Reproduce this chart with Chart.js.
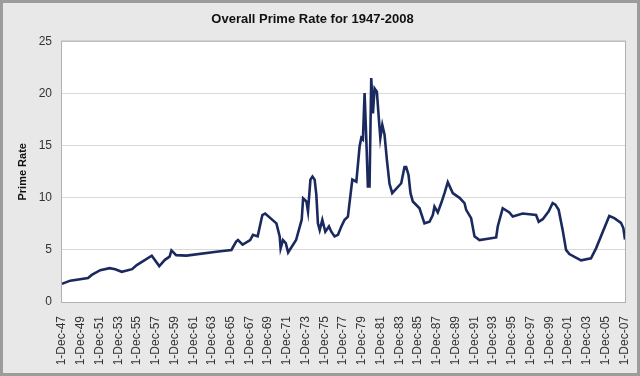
<!DOCTYPE html>
<html>
<head>
<meta charset="utf-8">
<script src="https://cdn.jsdelivr.net/npm/chart.js@4"></script>
<style>
  html, body { margin: 0; padding: 0; background: #e8e8e8; }
  canvas { display: block; }
</style>
</head>
<body>
<canvas id="prime" width="640" height="376"></canvas>
<script>
// decimal years of each rate change
const years = [
  1947.92, 1948.8, 1950.7, 1951.1, 1952.0, 1953.0, 1953.6, 1954.3, 1955.4, 1955.9,
  1957.5, 1958.3, 1958.9, 1959.4, 1959.6, 1960.1, 1961.2, 1964.6, 1966.0, 1966.5,
  1966.7, 1967.2, 1968.0, 1968.3, 1968.8, 1969.3, 1969.6, 1970.8, 1971.15, 1971.25,
  1971.5, 1971.8, 1972.05, 1972.9, 1973.5, 1973.65, 1974.0, 1974.17, 1974.43, 1974.65,
  1974.88, 1975.06, 1975.23, 1975.42, 1975.7, 1976.02, 1976.41, 1976.66, 1977.01, 1977.37,
  1977.73, 1978.08, 1978.43, 1978.9, 1979.33, 1979.68, 1979.86, 1980.03, 1980.21, 1980.39,
  1980.56, 1980.74, 1980.92, 1981.1, 1981.28, 1981.52, 1981.74, 1981.89, 1982.1, 1982.34,
  1982.59, 1982.87, 1983.16, 1984.12, 1984.47, 1984.65, 1984.9, 1985.11, 1985.36, 1986.07,
  1986.6, 1987.14, 1987.49, 1987.67, 1988.02, 1988.39, 1988.74, 1989.09, 1989.62, 1990.34,
  1990.87, 1991.05, 1991.58, 1991.94, 1992.47, 1994.25, 1994.42, 1994.95, 1995.66, 1996.02,
  1997.08, 1998.51, 1998.79, 1999.22, 1999.86, 2000.28, 2000.57, 2000.92, 2001.35, 2001.71,
  2002.06, 2003.31, 2004.37, 2004.91, 2006.32, 2006.86, 2007.57, 2007.82, 2008.0
];
const rates = [
  1.75, 2.05, 2.3, 2.6, 3.05, 3.25, 3.15, 2.9, 3.15, 3.55,
  4.45, 3.45, 4.05, 4.35, 4.95, 4.5, 4.45, 4.85, 5.0, 5.8,
  5.95, 5.5, 5.95, 6.45, 6.3, 8.35, 8.5, 7.55, 6.3, 5.15,
  5.95, 5.65, 4.75, 5.95, 7.9, 9.95, 9.65, 8.7, 11.75, 12.05,
  11.75, 10.3, 7.55, 6.9, 7.9, 6.75, 7.25, 6.75, 6.3, 6.45,
  7.25, 7.9, 8.2, 11.75, 11.55, 14.95, 15.75, 15.6, 20.05, 15.75,
  11.1, 11.1, 21.5, 18.1, 20.5, 20.2, 17.5, 15.75, 17.0, 16.05,
  13.65, 11.35, 10.45, 11.4, 12.95, 12.95, 12.2, 10.45, 9.65, 9.0,
  7.55, 7.7, 8.35, 9.15, 8.6, 9.5, 10.45, 11.5, 10.45, 10.0,
  9.5, 8.85, 8.05, 6.3, 5.95, 6.2, 7.25, 9.0, 8.6, 8.2,
  8.5, 8.35, 7.7, 7.95, 8.7, 9.5, 9.35, 8.85, 6.9, 5.0,
  4.6, 4.0, 4.2, 5.15, 8.25, 8.05, 7.6, 7.1, 6.0
];

const tickLabels = [
  '1-Dec-47', '1-Dec-49', '1-Dec-51', '1-Dec-53', '1-Dec-55', '1-Dec-57', '1-Dec-59',
  '1-Dec-61', '1-Dec-63', '1-Dec-65', '1-Dec-67', '1-Dec-69', '1-Dec-71', '1-Dec-73',
  '1-Dec-75', '1-Dec-77', '1-Dec-79', '1-Dec-81', '1-Dec-83', '1-Dec-85', '1-Dec-87',
  '1-Dec-89', '1-Dec-91', '1-Dec-93', '1-Dec-95', '1-Dec-97', '1-Dec-99', '1-Dec-01',
  '1-Dec-03', '1-Dec-05', '1-Dec-07'
];
const tickYears = tickLabels.map((_, i) => 1947.92 + 2 * i);

Chart.defaults.font.family = 'Arial, "Liberation Sans", sans-serif';

// grey page, white plot area with a thin border
const frame = {
  id: 'frame',
  beforeDraw(chart) {
    const { ctx, width, height, chartArea: a } = chart;
    ctx.save();
    ctx.fillStyle = '#e8e8e8';
    ctx.fillRect(0, 0, width, height);
    ctx.strokeStyle = '#9c9c9c';
    ctx.lineWidth = 3;
    ctx.strokeRect(1.5, 1.5, width - 3, height - 3);
    ctx.fillStyle = '#ffffff';
    ctx.fillRect(a.left, a.top, a.right - a.left, a.bottom - a.top);
    ctx.restore();
  },
  beforeDatasetsDraw(chart) {
    const { ctx, chartArea: a } = chart;
    ctx.save();
    ctx.strokeStyle = '#b0b0b0';
    ctx.lineWidth = 1;
    ctx.strokeRect(a.left - 0.5, a.top - 0.5, a.right - a.left + 1, a.bottom - a.top + 1);
    ctx.restore();
  }
};

const ctx = document.getElementById('prime').getContext('2d');
new Chart(ctx, {
  type: 'line',
  data: {
    datasets: [{
      label: 'Prime Rate',
      data: years.map((x, i) => ({ x: x, y: rates[i] })),
      borderColor: '#1b2a5e',
      borderWidth: 2.6,
      pointRadius: 0,
      tension: 0,
      fill: false
    }]
  },
  options: {
    responsive: false,
    animation: false,
    layout: { padding: { left: 0, right: 15, top: 0, bottom: 0 } },
    plugins: {
      legend: { display: false },
      tooltip: { enabled: false },
      title: {
        display: true,
        text: 'Overall Prime Rate for 1947-2008',
        color: '#111',
        font: { size: 13, weight: 'bold' },
        padding: { top: 12, bottom: 14 }
      }
    },
    scales: {
      x: {
        type: 'linear',
        min: 1947.92,
        max: 2008.0,
        grid: { display: false },
        border: { display: false },
        afterBuildTicks: s => { s.ticks = tickYears.map(v => ({ value: v })); },
        afterFit: s => { s.height = 74; s.paddingLeft = 0; s.paddingRight = 0; },
        ticks: {
          autoSkip: false,
          minRotation: 90,
          maxRotation: 90,
          padding: 6,
          color: '#333',
          font: { size: 12 },
          callback: (v, i) => tickLabels[i]
        }
      },
      y: {
        min: 0,
        max: 25,
        afterFit: s => { s.width = 62; },
        grid: { color: '#d9d9d9', drawTicks: false },
        border: { display: false },
        ticks: { stepSize: 5, padding: 10, color: '#333', font: { size: 12 } },
        title: {
          display: true,
          text: 'Prime Rate',
          color: '#111',
          font: { size: 11, weight: 'bold' },
          padding: { top: 16, bottom: 0 }
        }
      }
    }
  },
  plugins: [frame]
});
</script>
</body>
</html>
